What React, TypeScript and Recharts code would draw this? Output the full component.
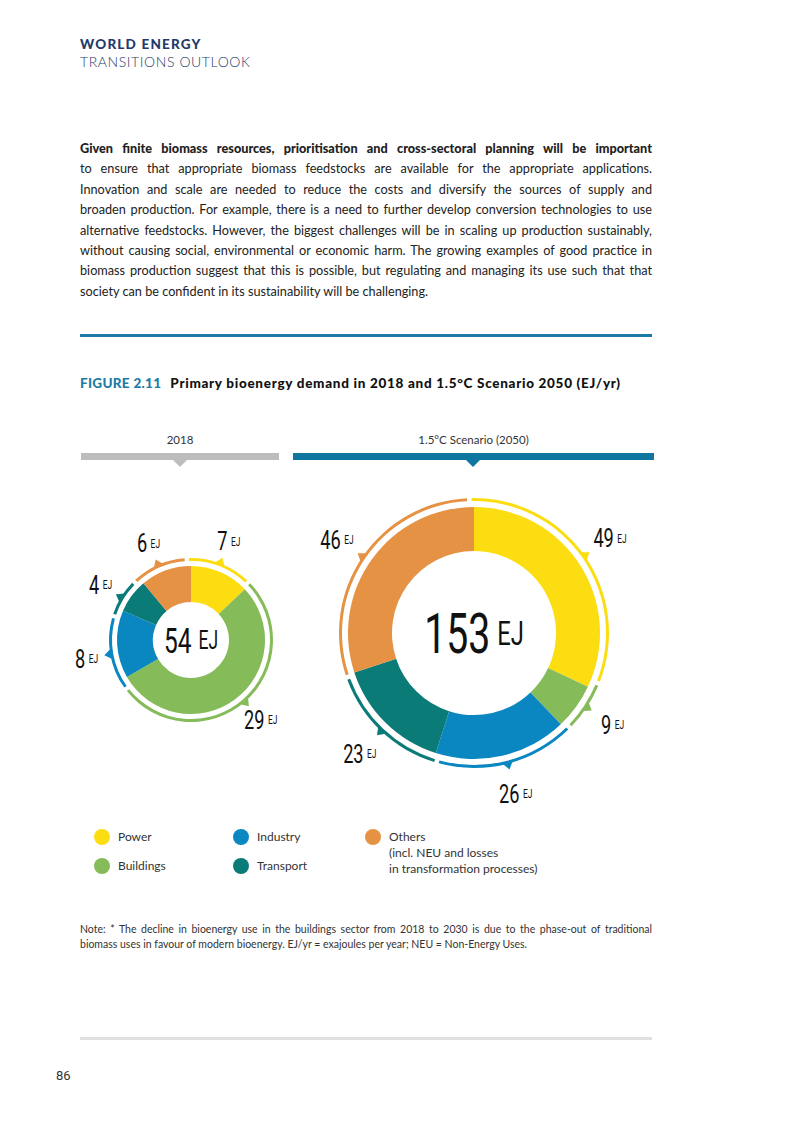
import React from "react";
import { Cell, Pie, PieChart } from "recharts";

type Share = { name: string; value: number };

const sectors = ["Power", "Buildings", "Industry", "Transport", "Others"];
const values2018 = [7, 29, 8, 4, 6];
const values2050 = [49, 9, 26, 23, 46];

const data2018: Share[] = sectors.map((name, i) => ({ name, value: values2018[i] }));
const data2050: Share[] = sectors.map((name, i) => ({ name, value: values2050[i] }));

const COLORS: { [key: string]: string } = {
  Power: "#fcdd12",
  Buildings: "#86bb59",
  Industry: "#0a87c1",
  Transport: "#0b7b78",
  Others: "#e59244",
};

const legendItems = [
  { name: "Power", label: ["Power"] },
  { name: "Buildings", label: ["Buildings"] },
  { name: "Industry", label: ["Industry"] },
  { name: "Transport", label: ["Transport"] },
  { name: "Others", label: ["Others", "(incl. NEU and losses", "in transformation processes)"] },
];

const bodyLines = [
  "to ensure that appropriate biomass feedstocks are available for the appropriate applications.",
  "Innovation and scale are needed to reduce the costs and diversify the sources of supply and",
  "broaden production. For example, there is a need to further develop conversion technologies to use",
  "alternative feedstocks. However, the biggest challenges will be in scaling up production sustainably,",
  "without causing social, environmental or economic harm. The growing examples of good practice in",
  "biomass production suggest that this is possible, but regulating and managing its use such that that",
  "society can be confident in its sustainability will be challenging.",
];

const NARROW = "Roboto, 'DejaVu Sans', sans-serif";
const BODY = "Lato, 'Open Sans', sans-serif";
const RAD = Math.PI / 180;
const SQUEEZE = 0.7;

// value + small "EJ", drawn in a horizontally squeezed face to mimic the condensed type
const EJText = ({ x, y, value, big, small, gap }: { x: number; y: number; value: number; big: number; small: number; gap: number }) => (
  <g transform={`translate(${x},${y}) scale(${SQUEEZE},1)`}>
    <text x={0} y={0} textAnchor="middle" dominantBaseline="central" fontFamily={NARROW} fontWeight={400} fill="#111">
      <tspan fontSize={big}>{value}</tspan>
      <tspan fontSize={small} dx={gap}>
        EJ
      </tspan>
    </text>
  </g>
);

const outerLabel = (offset: number) => (props: any) => {
  const { cx, cy, midAngle, outerRadius, value, name } = props;
  const cos = Math.cos(-midAngle * RAD);
  const sin = Math.sin(-midAngle * RAD);
  const px = -sin;
  const py = cos;
  const rb = outerRadius - 1;
  const rt = outerRadius + 6;
  const pts = [
    [cx + rb * cos + px * 5, cy + rb * sin + py * 5],
    [cx + rb * cos - px * 5, cy + rb * sin - py * 5],
    [cx + rt * cos, cy + rt * sin],
  ]
    .map((p) => p.join(","))
    .join(" ");
  const tr = outerRadius + offset;
  return (
    <g>
      <polygon points={pts} fill={COLORS[name]} />
      <EJText x={cx + tr * cos} y={cy + tr * sin} value={value} big={26} small={12} gap={5} />
    </g>
  );
};

const sum = (d: Share[]) => d.reduce((a, b) => a + b.value, 0);

const centerLabel = (total: number, big: number, small: number) => (props: any) =>
  props.index === 0 ? <EJText x={props.cx} y={props.cy} value={total} big={big} small={small} gap={10} /> : null;

const Donuts = () => (
  <PieChart width={803} height={360} margin={{ top: 0, right: 0, bottom: 0, left: 0 }}>
    <Pie
      data={data2018}
      dataKey="value"
      cx={191}
      cy={170}
      innerRadius={38}
      outerRadius={74}
      startAngle={90}
      endAngle={-270}
      stroke="none"
      labelLine={false}
      label={centerLabel(sum(data2018), 35, 25)}
      isAnimationActive={false}
    >
      {data2018.map((d) => (
        <Cell key={d.name} fill={COLORS[d.name]} />
      ))}
    </Pie>
    <Pie
      data={data2018}
      dataKey="value"
      cx={191}
      cy={170}
      innerRadius={79}
      outerRadius={82}
      startAngle={91.5}
      endAngle={-268.5}
      paddingAngle={3}
      stroke="none"
      labelLine={false}
      label={outerLabel(24)}
      isAnimationActive={false}
    >
      {data2018.map((d) => (
        <Cell key={d.name} fill={COLORS[d.name]} />
      ))}
    </Pie>
    <Pie
      data={data2050}
      dataKey="value"
      cx={474}
      cy={163}
      innerRadius={82}
      outerRadius={126}
      startAngle={90}
      endAngle={-270}
      stroke="none"
      labelLine={false}
      label={centerLabel(sum(data2050), 56, 34)}
      isAnimationActive={false}
    >
      {data2050.map((d) => (
        <Cell key={d.name} fill={COLORS[d.name]} />
      ))}
    </Pie>
    <Pie
      data={data2050}
      dataKey="value"
      cx={474}
      cy={163}
      innerRadius={132}
      outerRadius={135}
      startAngle={91}
      endAngle={-269}
      paddingAngle={2}
      stroke="none"
      labelLine={false}
      label={outerLabel(31)}
      isAnimationActive={false}
    >
      {data2050.map((d) => (
        <Cell key={d.name} fill={COLORS[d.name]} />
      ))}
    </Pie>
  </PieChart>
);

const abs = (left: number, top: number, extra: React.CSSProperties = {}): React.CSSProperties => ({
  position: "absolute",
  left,
  top,
  ...extra,
});

const Arrow = ({ x, y, color }: { x: number; y: number; color: string }) => (
  <div
    style={abs(x - 7, y, {
      width: 0,
      height: 0,
      borderLeft: "7px solid transparent",
      borderRight: "7px solid transparent",
      borderTop: `7px solid ${color}`,
    })}
  />
);

export default function App() {
  return (
    <div style={{ position: "absolute", left: 0, top: 0, width: 803, height: 1134, background: "#fff", overflow: "hidden", fontFamily: BODY }}>
      <div style={abs(80, 36, { fontSize: 13.5, fontWeight: 900, color: "#243a6b", letterSpacing: 1.2 })}>WORLD ENERGY</div>
      <div style={abs(80, 53, { fontSize: 14, fontWeight: 300, color: "#243a6b", letterSpacing: 0.6 })}>TRANSITIONS OUTLOOK</div>

      <div style={abs(80, 138, { width: 572, fontSize: 12.7, lineHeight: "20.4px", color: "#222" })}>
        <div style={{ fontWeight: 900, textAlign: "justify", textAlignLast: "justify", whiteSpace: "nowrap" }}>
          Given finite biomass resources, prioritisation and cross-sectoral planning will be important
        </div>
        {bodyLines.map((l, i) => (
          <div
            key={i}
            style={{
              textAlign: "justify",
              textAlignLast: i < bodyLines.length - 1 ? "justify" : "left",
              whiteSpace: "nowrap",
            }}
          >
            {l}
          </div>
        ))}
      </div>

      <div style={abs(80, 334, { width: 572, height: 3, background: "#1a7ba6" })} />

      <div style={abs(80, 375, { fontSize: 13.5, fontWeight: 900, color: "#111", whiteSpace: "nowrap" })}>
        <span style={{ color: "#1b7ca6", letterSpacing: 0.3, marginRight: 9 }}>FIGURE 2.11</span>
        <span style={{ letterSpacing: 0.7 }}>Primary bioenergy demand in 2018 and 1.5°C Scenario 2050 (EJ/yr)</span>
      </div>

      <div style={abs(81, 433, { width: 198, textAlign: "center", fontSize: 11.5, color: "#333" })}>2018</div>
      <div style={abs(81, 453, { width: 198, height: 7, background: "#bdbdbd" })} />
      <Arrow x={180} y={460} color="#bdbdbd" />
      <div style={abs(293, 433, { width: 361, textAlign: "center", fontSize: 11.5, color: "#333" })}>1.5°C Scenario (2050)</div>
      <div style={abs(293, 453, { width: 361, height: 7, background: "#0f76a0" })} />
      <Arrow x={473} y={460} color="#0f76a0" />

      <div style={abs(0, 470)}>
        <Donuts />
      </div>

      {legendItems.map((it, i) => {
        const col = Math.floor(i / 2);
        const row = i % 2;
        const x = [94, 233, 365][col];
        const y = 829 + row * 29;
        return (
          <div key={it.name} style={abs(x, y, { display: "flex", alignItems: "flex-start" })}>
            <div style={{ width: 16, height: 16, borderRadius: 8, background: COLORS[it.name], marginRight: 8 }} />
            <div style={{ fontSize: 12, lineHeight: "16px", color: "#333" }}>
              {it.label.map((t) => (
                <div key={t}>{t}</div>
              ))}
            </div>
          </div>
        );
      })}

      <div style={abs(80, 922, { width: 572, fontSize: 10.5, lineHeight: "15px", color: "#333" })}>
        <div style={{ textAlign: "justify", textAlignLast: "justify", whiteSpace: "nowrap" }}>
          Note: * The decline in bioenergy use in the buildings sector from 2018 to 2030 is due to the phase-out of traditional
        </div>
        <div style={{ whiteSpace: "nowrap" }}>
          biomass uses in favour of modern bioenergy. EJ/yr = exajoules per year; NEU = Non-Energy Uses.
        </div>
      </div>

      <div style={abs(80, 1037, { width: 572, height: 3, background: "#e0e0e0" })} />
      <div style={abs(56, 1068, { fontSize: 13, color: "#333", fontFamily: NARROW })}>86</div>
    </div>
  );
}
